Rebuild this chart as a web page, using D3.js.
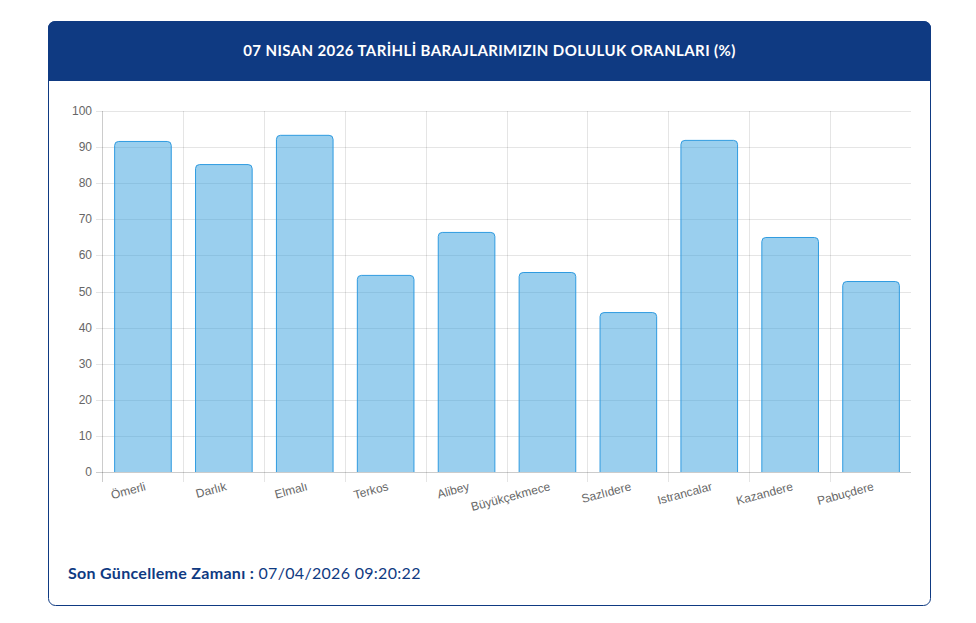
<!DOCTYPE html>
<html>
<head>
<meta charset="utf-8">
<script src="https://cdn.jsdelivr.net/npm/d3@7"></script>
<style>
  body { margin: 0; background: #fff; }
  svg { display: block; }
</style>
</head>
<body>
<svg id="chart"></svg>
<script>
// dam names and fill ratios (%)
const dams = ['Ömerli', 'Darlık', 'Elmalı', 'Terkos', 'Alibey', 'Büyükçekmece',
    'Sazlıdere', 'Istrancalar', 'Kazandere', 'Pabuçdere'];
const fillRates = [91.7, 85.3, 93.4, 54.6, 66.5, 55.4, 44.3, 92.0, 65.1, 52.9];
const yTicks = [0, 10, 20, 30, 40, 50, 60, 70, 80, 90, 100];
const titleText = '07 NISAN 2026 TARİHLİ BARAJLARIMIZIN DOLULUK ORANLARI (%)';
const updateLabel = 'Son Güncelleme Zamanı :';
const updateTime = ' 07/04/2026 09:20:22';

const W = 976, H = 623;
const navy = '#0f3a82';

const svg = d3.select('#chart')
    .attr('width', W)
    .attr('height', H);

// card
svg.append('rect')
    .attr('x', 48.5).attr('y', 21.5)
    .attr('width', 882).attr('height', 584)
    .attr('rx', 7)
    .attr('fill', '#fff')
    .attr('stroke', navy)
    .attr('stroke-width', 1);

// header band with rounded top corners
svg.append('path')
    .attr('d', 'M48,81 L48,29 Q48,21 56,21 L923,21 Q931,21 931,29 L931,81 Z')
    .attr('fill', navy);

svg.append('text')
    .attr('x', 489.5).attr('y', 56)
    .attr('text-anchor', 'middle')
    .attr('fill', '#fff')
    .attr('font-family', 'Lato, "Open Sans", sans-serif')
    .attr('font-weight', 'bold')
    .attr('font-size', 15)
    .attr('letter-spacing', 0.4)
    .text(titleText);

const margin = { left: 102, top: 111, right: 911, bottom: 472 };

const x = d3.scaleBand()
    .domain(dams)
    .range([margin.left, margin.right])
    .paddingInner(0.3)
    .paddingOuter(0.15);

const xCat = d3.scaleBand()
    .domain(dams)
    .range([margin.left, margin.right]);

const y = d3.scaleLinear()
    .domain([0, 100])
    .range([margin.bottom, margin.top]);

const grid = svg.append('g');

// horizontal gridlines
grid.selectAll('line.h')
    .data(yTicks)
    .join('line')
    .attr('class', 'h')
    .attr('x1', margin.left - 6)
    .attr('x2', margin.right)
    .attr('y1', d => Math.round(y(d)) + 0.5)
    .attr('y2', d => Math.round(y(d)) + 0.5)
    .attr('stroke', d => d === 0 ? 'rgba(0,0,0,0.2)' : 'rgba(0,0,0,0.1)');

// vertical gridlines at category boundaries
grid.selectAll('line.v')
    .data(dams)
    .join('line')
    .attr('class', 'v')
    .attr('x1', d => Math.round(xCat(d)) + 0.5)
    .attr('x2', d => Math.round(xCat(d)) + 0.5)
    .attr('y1', margin.top)
    .attr('y2', margin.bottom + 10)
    .attr('stroke', (d, i) => i === 0 ? 'rgba(0,0,0,0.2)' : 'rgba(0,0,0,0.1)');

// y tick labels
svg.append('g')
    .selectAll('text')
    .data(yTicks)
    .join('text')
    .attr('x', margin.left - 10)
    .attr('y', d => y(d) + 4)
    .attr('text-anchor', 'end')
    .attr('fill', '#666')
    .attr('font-family', '"Liberation Sans", Arial, sans-serif')
    .attr('font-size', 12)
    .text(d => d);

// bars, rounded top corners
const r = 4;
function barPath(d, i) {
    const x0 = x(dams[i]) + 0.5, x1 = x0 + x.bandwidth();
    const yt = y(d) + 0.5, yb = y(0);
    return `M${x0},${yb} L${x0},${yt + r} Q${x0},${yt} ${x0 + r},${yt}
        L${x1 - r},${yt} Q${x1},${yt} ${x1},${yt + r} L${x1},${yb}`;
}

svg.append('g')
    .selectAll('path')
    .data(fillRates)
    .join('path')
    .attr('d', barPath)
    .attr('fill', 'rgba(54,160,222,0.5)')
    .attr('stroke', '#2f9be0')
    .attr('stroke-width', 1);

// x labels, rotated
svg.append('g')
    .selectAll('text')
    .data(dams)
    .join('text')
    .attr('transform', d => `translate(${xCat(d) + xCat.bandwidth() / 2 + 4},${margin.bottom + 18}) rotate(-15)`)
    .attr('text-anchor', 'end')
    .attr('fill', '#666')
    .attr('font-family', '"Liberation Sans", Arial, sans-serif')
    .attr('font-size', 12)
    .text(d => d);

// footer
const foot = svg.append('text')
    .attr('x', 68).attr('y', 579)
    .attr('font-family', 'Lato, "Open Sans", sans-serif')
    .attr('font-size', 16)
    .attr('letter-spacing', 0.3)
    .attr('fill', navy);
foot.append('tspan').attr('font-weight', 'bold').text(updateLabel);
foot.append('tspan').text(updateTime);
</script>
</body>
</html>
